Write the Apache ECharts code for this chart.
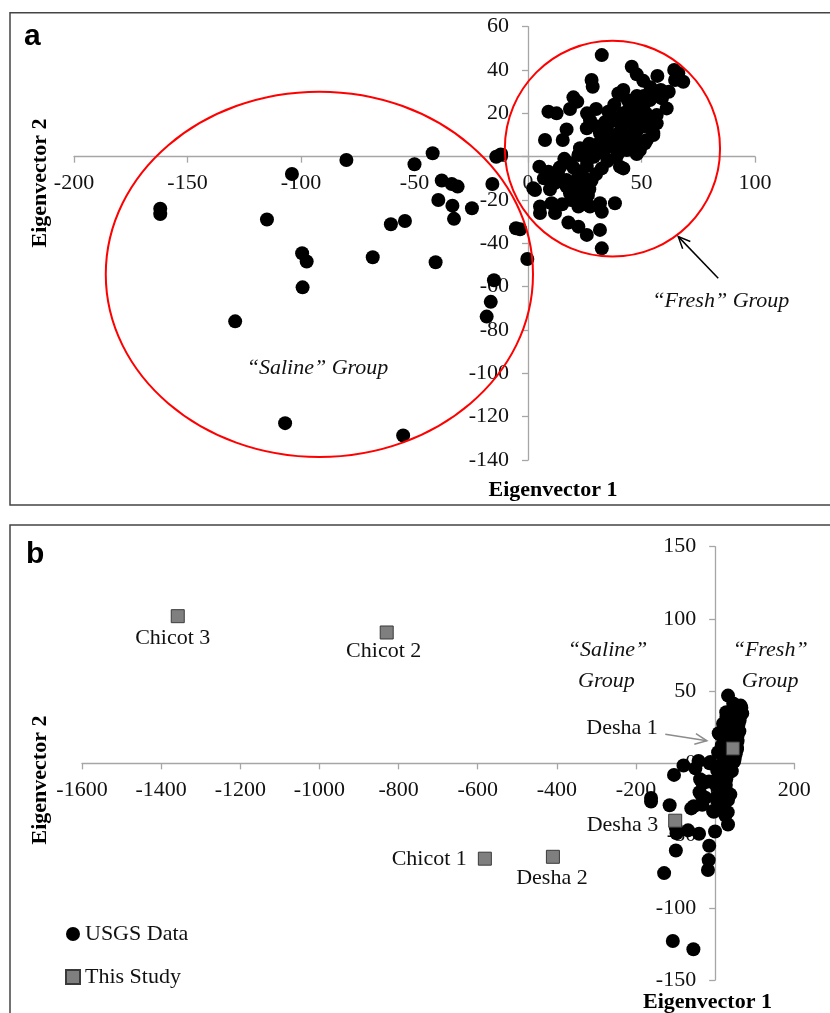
<!DOCTYPE html>
<html>
<head>
<meta charset="utf-8">
<script src="https://cdn.jsdelivr.net/npm/echarts@6/dist/echarts.min.js"></script>
<style>
html,body{margin:0;padding:0;background:#fff;}
#chart{width:830px;height:1013px;}
</style>
</head>
<body>
<div id="chart"></div>
<script>
// ---------------- DATA ----------------
// USGS data (Eigenvector 1, Eigenvector 2) — same samples plotted in both panels
const usgsSaline = [
  [-162,-24],[-162,-26.5],[-104,-8],[-80,-1.5],[-115,-29],[-99.5,-44.6],[-97.5,-48.4],[-99.3,-60.3],
  [-129,-76],[-107,-123],[-55,-128.7],[-42,1.6],[-50,-3.5],[-38,-11],[-33.6,-12.6],[-31,-13.8],
  [-39.5,-20],[-33.3,-22.6],[-24.7,-23.8],[-32.6,-28.7],[-54.2,-29.7],[-60.4,-31.2],[-68.4,-46.4],
  [-40.7,-48.7],[-14,0],[-12,1],[-15.7,-12.6],[-5.3,-33],[-3.5,-33.5],[-0.3,-47.2],[-15,-57],
  [-16.4,-67],[-18.2,-73.8]
];
const usgsFresh = [
  [32.5,46.9],[28,35.4],[28.5,32.3],[20,27.4],[21.7,25.4],[18.5,22],[9,20.8],[12.6,20],[17,12.6],
  [15.3,7.7],[7.5,7.7],[27.3,16.9],[25.9,13.1],[35.4,20.8],[39.8,29.2],[42,30.8],
  [5,-4.6],[9,-6.9],[13.3,-8.4],[17,-10.8],[21.5,-12.3],[2.3,-14.6],[9.7,-15],[17,-13.8],[18.5,-16.9],
  [22.2,-8.4],[25.9,-4.3],[32.5,-5.4],[22.2,0.8],[22.9,3.9],[18.5,-3],
  [5.3,-23],[5.3,-26],[10.4,-21.5],[11.9,-26],[22.2,-23],[26.4,-17.7],[27.3,-23],[31.7,-21.5],
  [32.5,-25.4],[17.8,-30.4],[22.2,-32.3],[25.9,-36.1],[31.7,-33.8],[32.5,-42.3],[38.3,-21.5],
  [40.5,-4.6],[42,-5.4],[3.1,-15.4],[24.4,-13.8],
  [45.7,41.5],[47.9,38],[50.8,35],[57,37.3],[64.4,40],[66.2,38.5],[68.4,34.6],[64.8,35.4],[58.5,30.8],
  [55.2,27.7],[61.1,22.3],[56.7,19.2],[53.7,26.2],[50.8,23.1],[55.2,10],[51.5,6.2],[47.9,1.2],
  [40.5,28.5],[36.1,20],[44.2,21.5],[53.7,18.5],[56.7,15.4],[55.2,10.8],[52.3,7.7],[49.3,3.1],
  [40.5,15.4],[34.7,13.8],[31.7,10.8],[42,7.7],[37.6,4.6],[33.2,1.6],[43.5,3.1],[46.4,13.8],
  [49.3,18.5],[46.4,23.1],
  [24,2],[27,6],[29,0],[31,6],[33,10],[36,16],[38,10],[26,-2],[23,-8],[20,-12],[22,-16],[24,-19],
  [30,-8],[28,-11],[35,-2],[39,0],[41,12],[44,9],[47,8],[45,16],[48,12],[51,14],[52,20],[48,28],
  [44,26],[38,24],[30,22],[26,20],[16,-1],[14,-5],[12,-12],[7,-10],[19,-20],[15,-22],
  [30,4],[30,14],[34,6],[34,16],[38,18],[42,16],[42,20],[46,18],[50,16],[53,14],[44,4],[40,2],
  [20,-5],[25,-10],[27,-15],[20,-17],[24,-22],[27,3],[54,32],[59,27],[62,30],[51,28]
];
const usgsData = usgsSaline.concat(usgsFresh);

// This study samples (panel b)
const studyNames = ['Chicot 3','Chicot 2','Chicot 1','Desha 2','Desha 3','Desha 1'];
const studyX = [-1358,-830,-582,-410,-101,44.7];
const studyY = [101.9,90.6,-66,-64.7,-39.7,10.3];

// Axis ticks
const xTicksA = [-200,-150,-100,-50,0,50,100];
const yTicksA = [-140,-120,-100,-80,-60,-40,-20,0,20,40,60];
const xTicksB = [-1600,-1400,-1200,-1000,-800,-600,-400,-200,0,200];
const yTicksB = [-150,-100,-50,0,50,100,150];

// Annotations (data coordinates): [cx, cy, rx, ry]
const salineEllipseA = [-91.9,-54.3,94.1,84.3];
const freshEllipseA = [37.2,3.7,47.4,49.8];
// arrows: [x0,y0,x1(tip),y1(tip)]
const freshArrowA = [83.8,-56.1,66.2,-36.9];
const deshaArrowB = [-126,20.2,-21,15.6];
// group texts: [text, x, y]
const groupTextA = [['\u201CSaline\u201D Group',-92.7,-97.6],['\u201CFresh\u201D Group',84.9,-66.9]];
const groupTextB = [['\u201CSaline\u201D',-272,78],['Group',-275,56.8],['\u201CFresh\u201D',139,78],['Group',139,56.8]];

// ---------------- LAYOUT / STYLE ----------------
const W = 830, H = 1013;
const gridA = {left:74, right:75, top:26.7, bottom:553};
const gridB = {left:82, right:35.7, top:546.7, bottom:33};
const SERIF = '"Liberation Serif","Times New Roman",serif';
const SANS = '"Liberation Sans",Arial,sans-serif';
const axisColor = '#a6a6a6';
const labelStyle = {fontFamily:SERIF,fontSize:22,color:'#111'};

// place each axis at the other axis' zero using offset (derived from the scales)
function zeroOffset(ticks, lengthPx){
  const mn = ticks[0], mx = ticks[ticks.length-1];
  return -lengthPx * (0 - mn) / (mx - mn);
}

function valueAxis(gridIndex, ticks, isY, offset){
  return {
    type:'value', gridIndex:gridIndex, position:isY?'left':'bottom', offset:offset,
    min:ticks[0], max:ticks[ticks.length-1], interval:ticks[1]-ticks[0],
    axisLine:{show:true,onZero:false,lineStyle:{color:axisColor,width:1.3}},
    axisTick:{show:true,inside:false,length:6,lineStyle:{color:axisColor,width:1.3}},
    splitLine:{show:false},
    axisLabel:Object.assign({margin:isY?19:16,showMinLabel:true,showMaxLabel:true,
      formatter:function(v){return String(v);}},labelStyle)
  };
}

function renderEllipse(params, api){
  const c = api.coord([api.value(0), api.value(1)]);
  const s = api.size([api.value(2), api.value(3)]);
  return {type:'ellipse', shape:{cx:c[0],cy:c[1],rx:s[0],ry:s[1]},
    style:{fill:null,stroke:'#ff0000',lineWidth:2}};
}
function arrowRenderer(color,width){
  return function(params, api){
    const p0 = api.coord([api.value(0), api.value(1)]);
    const p1 = api.coord([api.value(2), api.value(3)]);
    const ang = Math.atan2(p1[1]-p0[1], p1[0]-p0[0]);
    const L = 13, a = 0.42;
    const h1 = [p1[0]-L*Math.cos(ang-a), p1[1]-L*Math.sin(ang-a)];
    const h2 = [p1[0]-L*Math.cos(ang+a), p1[1]-L*Math.sin(ang+a)];
    return {type:'group', children:[
      {type:'line', shape:{x1:p0[0],y1:p0[1],x2:p1[0],y2:p1[1]}, style:{stroke:color,lineWidth:width}},
      {type:'polyline', shape:{points:[h1,p1,h2]}, style:{stroke:color,lineWidth:width,fill:null}}
    ]};
  };
}
function textRenderer(list){
  return function(params, api){
    const c = api.coord([api.value(0), api.value(1)]);
    return {type:'text', x:c[0], y:c[1], style:{text:list[params.dataIndex][0],
      fontFamily:SERIF, fontSize:22, fontStyle:'italic', fill:'#111', align:'center', verticalAlign:'middle'}};
  };
}

const studyLabel = {
  'Chicot 3':{position:'bottom',distance:4,offset:[-5,0]},
  'Chicot 2':{position:'bottom',distance:1,offset:[-3,0]},
  'Chicot 1':{position:'left',distance:11,offset:[0,1]},
  'Desha 2':{position:'bottom',distance:3.5,offset:[-1,0]},
  'Desha 3':{position:'left',distance:10,offset:[0,5]},
  'Desha 1':{position:'left',distance:68,offset:[0,-20]}
};
const studyItems = studyNames.map(function(n,i){
  return {name:n, value:[studyX[i], studyY[i]], label:studyLabel[n]};
});

const gAw = W - gridA.left - gridA.right, gAh = H - gridA.top - gridA.bottom;
const gBw = W - gridB.left - gridB.right, gBh = H - gridB.top - gridB.bottom;

const chart = echarts.init(document.getElementById('chart'), null, {renderer:'canvas'});
chart.setOption({
  backgroundColor:'#ffffff',
  animation:false,
  grid:[
    Object.assign({outerBoundsMode:'none', containLabel:false}, gridA),
    Object.assign({outerBoundsMode:'none', containLabel:false}, gridB)
  ],
  xAxis:[valueAxis(0,xTicksA,false,zeroOffset(yTicksA,gAh)), valueAxis(1,xTicksB,false,zeroOffset(yTicksB,gBh))],
  yAxis:[valueAxis(0,yTicksA,true,zeroOffset(xTicksA,gAw)), valueAxis(1,yTicksB,true,zeroOffset(xTicksB,gBw))],
  legend:{
    data:['USGS Data','This Study'], orient:'vertical', left:60, top:918,
    itemWidth:14, itemHeight:14, itemGap:21, selectedMode:false,
    textStyle:{fontFamily:SERIF,fontSize:22,color:'#111',lineHeight:22}
  },
  graphic:[
    {type:'rect', shape:{x:10,y:12.7,width:830,height:492.3}, style:{fill:null,stroke:'#444',lineWidth:1.5}, silent:true},
    {type:'rect', shape:{x:10,y:525,width:830,height:500}, style:{fill:null,stroke:'#444',lineWidth:1.5}, silent:true},
    {type:'text', x:24, y:37, style:{text:'a',font:'bold 30px '+SANS,fill:'#000',verticalAlign:'middle'}},
    {type:'text', x:26, y:554.5, style:{text:'b',font:'bold 30px '+SANS,fill:'#000',verticalAlign:'middle'}},
    {type:'text', x:553, y:490, style:{text:'Eigenvector 1',font:'bold 22px '+SERIF,fill:'#000',align:'center',verticalAlign:'middle'}},
    {type:'text', x:707.5, y:1002.7, style:{text:'Eigenvector 1',font:'bold 22px '+SERIF,fill:'#000',align:'center',verticalAlign:'middle'}},
    {type:'text', x:40, y:183, rotation:Math.PI/2, style:{text:'Eigenvector 2',font:'bold 22px '+SERIF,fill:'#000',align:'center',verticalAlign:'middle'}},
    {type:'text', x:40, y:780, rotation:Math.PI/2, style:{text:'Eigenvector 2',font:'bold 22px '+SERIF,fill:'#000',align:'center',verticalAlign:'middle'}}
  ],
  series:[
    {name:'USGS Data', type:'scatter', xAxisIndex:0, yAxisIndex:0, data:usgsData,
      symbol:'circle', symbolSize:14, itemStyle:{color:'#000',opacity:1}, z:3},
    {name:'ellipsesA', type:'custom', xAxisIndex:0, yAxisIndex:0, renderItem:renderEllipse,
      data:[salineEllipseA, freshEllipseA], encode:{x:0,y:1}, z:4, silent:true},
    {name:'arrowA', type:'custom', xAxisIndex:0, yAxisIndex:0, renderItem:arrowRenderer('#000',1.5),
      data:[freshArrowA], encode:{x:0,y:1}, z:4, silent:true},
    {name:'textA', type:'custom', xAxisIndex:0, yAxisIndex:0, renderItem:textRenderer(groupTextA),
      data:groupTextA.map(function(t){return [t[1],t[2]];}), encode:{x:0,y:1}, z:4, silent:true},
    {name:'USGS Data', type:'scatter', xAxisIndex:1, yAxisIndex:1, data:usgsData,
      symbol:'circle', symbolSize:14, itemStyle:{color:'#000',opacity:1}, z:3},
    {name:'This Study', type:'scatter', xAxisIndex:1, yAxisIndex:1, data:studyItems,
      symbol:'rect', symbolSize:13, itemStyle:{color:'#7f7f7f',borderColor:'#3a3a3a',borderWidth:1,opacity:1},
      label:{show:true, formatter:'{b}', fontFamily:SERIF, fontSize:22, color:'#111', lineHeight:22}, z:5},
    {name:'arrowB', type:'custom', xAxisIndex:1, yAxisIndex:1, renderItem:arrowRenderer('#8c8c8c',1.5),
      data:[deshaArrowB], encode:{x:0,y:1}, z:5, silent:true},
    {name:'textB', type:'custom', xAxisIndex:1, yAxisIndex:1, renderItem:textRenderer(groupTextB),
      data:groupTextB.map(function(t){return [t[1],t[2]];}), encode:{x:0,y:1}, z:4, silent:true}
  ]
});
</script>
</body>
</html>
